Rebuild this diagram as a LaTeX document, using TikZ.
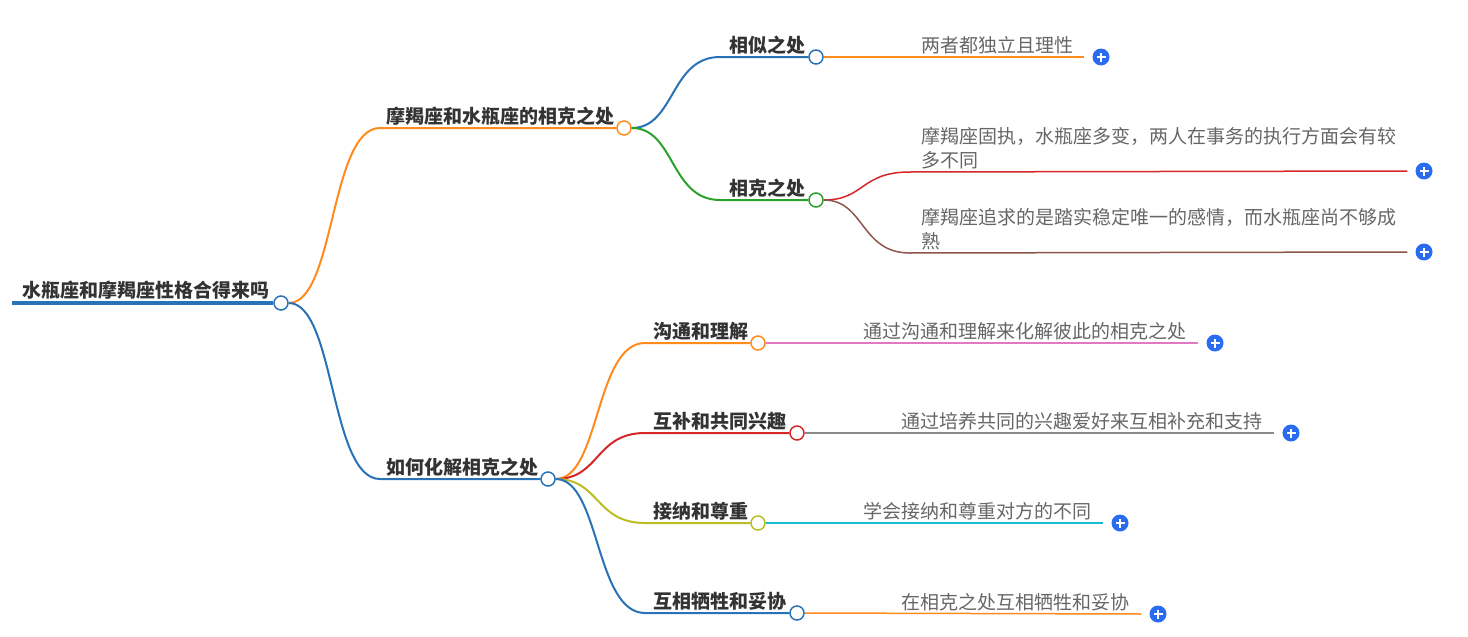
\documentclass[tikz,border=0pt]{standalone}
\usepackage{fontspec}
\setmainfont{Noto Sans CJK SC}
\definecolor{cblue}{HTML}{2872B5}
\definecolor{corange}{HTML}{FF8A1E}
\definecolor{cgreen}{HTML}{2CA02C}
\definecolor{cred}{HTML}{D62728}
\definecolor{cbrown}{HTML}{8C564B}
\definecolor{cpink}{HTML}{E377C2}
\definecolor{cgray}{HTML}{8A8A8A}
\definecolor{colive}{HTML}{BCBD22}
\definecolor{ccyan}{HTML}{17BECF}
\definecolor{plusblue}{HTML}{2A6CF0}
\definecolor{labelgray}{HTML}{333333}
\definecolor{notegray}{HTML}{666666}
\begin{document}
\begin{tikzpicture}[x=1pt,y=-1pt,
    dot/.style={circle,draw=#1,fill=white,line width=1.5pt,minimum size=14pt,inner sep=0pt},
    plus/.style={circle,fill=plusblue,minimum size=17pt,inner sep=0pt,
      path picture={\draw[white,line width=1.7pt]
        ([xshift=-4.5pt]path picture bounding box.center) -- ([xshift=4.5pt]path picture bounding box.center)
        ([yshift=-4.5pt]path picture bounding box.center) -- ([yshift=4.5pt]path picture bounding box.center);}},
    topic/.style={anchor=south west,inner sep=0pt,text=labelgray,font=\fontsize{19}{24}\selectfont\bfseries},
    note/.style={anchor=south west,inner sep=0pt,text=notegray,align=left,font=\fontsize{19}{24}\selectfont},
    branch/.style={draw=#1,line width=2pt},
    leaf/.style={draw=#1,line width=1.5pt}]
  \useasboundingbox (0,0) rectangle (1468,637);

  \coordinate (start) at (12,303);
  \node[dot=cblue] (root) at (281,303) {};
  \node[dot=corange] (cmp) at (624,128) {};
  \node[dot=cblue] (sim) at (816,57) {};
  \node[dot=cgreen] (dif) at (816,200) {};
  \node[dot=cblue] (how) at (548,479) {};
  \node[dot=corange] (talk) at (758,343) {};
  \node[dot=cred] (share) at (797,433) {};
  \node[dot=colive] (accept) at (758,523) {};
  \node[dot=cblue] (give) at (797,613) {};

  \node[plus] (psim) at (1101,57) {};
  \node[plus] (pdifa) at (1424,171) {};
  \node[plus] (pdifb) at (1424,252) {};
  \node[plus] (ptalk) at (1215,343) {};
  \node[plus] (pshare) at (1291,433) {};
  \node[plus] (paccept) at (1120,523) {};
  \node[plus] (pgive) at (1158,614) {};

  \node[anchor=south west,inner sep=0pt,text=labelgray,font=\fontsize{19}{24}\selectfont\bfseries]
    (troot) at (22,300) {水瓶座和摩羯座性格合得来吗};
  \node[topic] (tcmp) at (386,125.5) {摩羯座和水瓶座的相克之处};
  \node[topic] (tsim) at (729,54.5) {相似之处};
  \node[topic] (tdif) at (729,197.5) {相克之处};
  \node[topic] (thow) at (386,476.5) {如何化解相克之处};
  \node[topic] (ttalk) at (653,340.5) {沟通和理解};
  \node[topic] (tshare) at (653,430.5) {互补和共同兴趣};
  \node[topic] (taccept) at (653,520.5) {接纳和尊重};
  \node[topic] (tgive) at (653,610.5) {互相牺牲和妥协};

  \node[note] (nsim) at (921,54.5) {两者都独立且理性};
  \node[note] (ndifa) at (921,169.5) {摩羯座固执，水瓶座多变，两人在事务的执行方面会有较\\多不同};
  \node[note] (ndifb) at (921,250.5) {摩羯座追求的是踏实稳定唯一的感情，而水瓶座尚不够成\\熟};
  \node[note] (ntalk) at (863,340.5) {通过沟通和理解来化解彼此的相克之处};
  \node[note] (nshare) at (901,430.5) {通过培养共同的兴趣爱好来互相补充和支持};
  \node[note] (naccept) at (863,520.5) {学会接纳和尊重对方的不同};
  \node[note] (ngive) at (901,611) {在相克之处互相牺牲和妥协};

  \draw[cblue,line width=3.5pt] (start) -- (root.west);
  \draw[branch=corange] (root.east) .. controls (335,303) and (330,128) .. (380,128) -- (cmp.west);
  \draw[branch=cblue] (root.east) .. controls (335,303) and (330,479) .. (380,479) -- (how.west);

  \draw[branch=cblue] (cmp.east) .. controls (675,128) and (670,57) .. (720,57) -- (sim.west);
  \draw[branch=cgreen] (cmp.east) .. controls (675,128) and (670,200) .. (720,200) -- (dif.west);
  \draw[leaf=corange] (sim.east) -- ([xshift=-8pt]psim.west);
  \draw[leaf=cred] (dif.east) .. controls (865,200) and (860,172) .. (910,172) -- ([xshift=-8pt]pdifa.west);
  \draw[leaf=cbrown] (dif.east) .. controls (865,200) and (860,253) .. (910,253) -- ([xshift=-8pt]pdifb.west);

  \draw[branch=corange] (how.east) .. controls (600,479) and (595,343) .. (645,343) -- (talk.west);
  \draw[branch=cred] (how.east) .. controls (600,479) and (595,433) .. (645,433) -- (share.west);
  \draw[branch=colive] (how.east) .. controls (600,479) and (595,523) .. (645,523) -- (accept.west);
  \draw[branch=cblue] (how.east) .. controls (600,479) and (595,613) .. (645,613) -- (give.west);
  \draw[leaf=cpink] (talk.east) -- ([xshift=-8pt]ptalk.west);
  \draw[leaf=cgray] (share.east) -- ([xshift=-8pt]pshare.west);
  \draw[leaf=ccyan] (accept.east) -- ([xshift=-8pt]paccept.west);
  \draw[leaf=corange] (give.east) -- ([xshift=-8pt]pgive.west);
\end{tikzpicture}
\end{document}
